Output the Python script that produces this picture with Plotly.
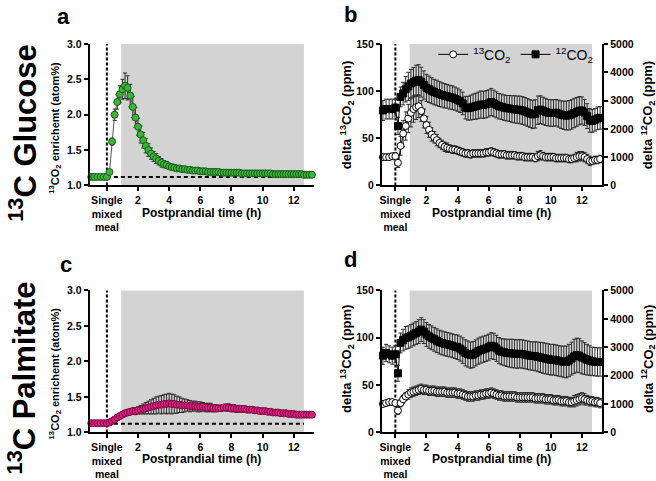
import plotly.graph_objects as go

# ---------------- data ----------------
TIME_MIN = [-60, -48, -36, -24, -12, 0,
            10, 20, 30, 40, 50, 60, 70, 80, 90, 100,
            110, 120, 130, 140, 150, 160, 170, 180, 190, 200,
            210, 220, 230, 240, 250, 260, 270, 280, 290, 300,
            310, 320, 330, 340, 350, 360, 370, 380, 390, 400,
            410, 420, 430, 440, 450, 460, 470, 480, 490, 500,
            510, 520, 530, 540, 550, 560, 570, 580, 590, 600,
            610, 620, 630, 640, 650, 660, 670, 680, 690, 700,
            710, 720, 730, 740, 750, 760, 770, 780, 790]

GLUCOSE_ENR = [1.12, 1.12, 1.12, 1.12, 1.12, 1.12,
               1.19, 1.62, 2.00, 2.18, 2.29, 2.36, 2.41, 2.38, 2.27, 2.11,
               1.96, 1.83, 1.72, 1.64, 1.56, 1.50, 1.45, 1.41, 1.38, 1.35,
               1.32, 1.30, 1.29, 1.27, 1.26, 1.25, 1.24, 1.24, 1.23, 1.23,
               1.22, 1.22, 1.21, 1.21, 1.21, 1.20, 1.20, 1.20, 1.19, 1.19,
               1.19, 1.19, 1.19, 1.18, 1.18, 1.18, 1.18, 1.18, 1.18, 1.18,
               1.18, 1.17, 1.17, 1.17, 1.17, 1.17, 1.17, 1.17, 1.17, 1.17,
               1.17, 1.17, 1.17, 1.16, 1.16, 1.16, 1.16, 1.16, 1.16, 1.16,
               1.16, 1.16, 1.16, 1.16, 1.16, 1.15, 1.15, 1.15, 1.15]
GLUCOSE_SEM = [0.01, 0.01, 0.01, 0.01, 0.01, 0.01,
               0.02, 0.05, 0.08, 0.10, 0.12, 0.14, 0.18, 0.17, 0.16, 0.15,
               0.14, 0.12, 0.12, 0.11, 0.10, 0.09, 0.08, 0.07, 0.07, 0.06,
               0.06, 0.05, 0.05, 0.04, 0.04, 0.03, 0.03, 0.03, 0.03, 0.02,
               0.02, 0.02, 0.02, 0.02, 0.02, 0.02, 0.02, 0.02, 0.02, 0.02,
               0.02, 0.02, 0.02, 0.02, 0.02, 0.01, 0.01, 0.01, 0.01, 0.01,
               0.01, 0.01, 0.01, 0.01, 0.01, 0.01, 0.01, 0.01, 0.01, 0.01,
               0.01, 0.01, 0.01, 0.01, 0.01, 0.01, 0.01, 0.01, 0.01, 0.01,
               0.01, 0.01, 0.01, 0.01, 0.01, 0.01, 0.01, 0.01, 0.01]

PALM_ENR = [1.13, 1.13, 1.13, 1.13, 1.13, 1.13,
            1.14, 1.16, 1.18, 1.21, 1.23, 1.25, 1.27, 1.28, 1.29, 1.30,
            1.30, 1.31, 1.32, 1.33, 1.34, 1.35, 1.36, 1.37, 1.38, 1.39,
            1.39, 1.40, 1.40, 1.41, 1.40, 1.40, 1.39, 1.39, 1.38, 1.38,
            1.38, 1.37, 1.37, 1.37, 1.36, 1.36, 1.36, 1.35, 1.35, 1.35,
            1.34, 1.34, 1.34, 1.34, 1.35, 1.35, 1.35, 1.34, 1.34, 1.33,
            1.33, 1.33, 1.33, 1.32, 1.32, 1.32, 1.31, 1.31, 1.30, 1.30,
            1.30, 1.29, 1.29, 1.28, 1.28, 1.28, 1.27, 1.27, 1.27, 1.26,
            1.26, 1.26, 1.25, 1.25, 1.25, 1.25, 1.25, 1.25, 1.25]
PALM_SEM = [0.01, 0.01, 0.01, 0.01, 0.01, 0.01,
            0.01, 0.01, 0.02, 0.02, 0.02, 0.03, 0.03, 0.03, 0.04, 0.04,
            0.05, 0.05, 0.06, 0.07, 0.08, 0.09, 0.10, 0.11, 0.12, 0.12,
            0.13, 0.13, 0.14, 0.14, 0.14, 0.13, 0.12, 0.11, 0.10, 0.09,
            0.08, 0.08, 0.07, 0.07, 0.07, 0.07, 0.06, 0.06, 0.06, 0.06,
            0.05, 0.05, 0.04, 0.04, 0.04, 0.05, 0.05, 0.05, 0.05, 0.05,
            0.05, 0.04, 0.04, 0.04, 0.04, 0.03, 0.03, 0.03, 0.03, 0.03,
            0.03, 0.03, 0.02, 0.02, 0.02, 0.02, 0.02, 0.02, 0.02, 0.02,
            0.02, 0.01, 0.01, 0.01, 0.01, 0.01, 0.01, 0.01, 0.01]

# panel b (13C glucose breath CO2)
B_13CO2 = [30, 30, 30, 30, 31, 31,
           24, 42, 55, 63, 71, 77, 81, 83, 84, 79,
           71, 64, 59, 54, 51, 48, 45, 43, 41, 40,
           39, 38, 38, 37, 36, 35, 34, 34, 33, 34,
           34, 34, 34, 34, 35, 35, 36, 35, 34, 33,
           33, 33, 32, 32, 32, 32, 31, 31, 31, 30,
           30, 30, 30, 29, 31, 32, 31, 30, 30, 30,
           30, 29, 29, 29, 29, 29, 28, 28, 29, 30,
           31, 31, 30, 28, 26, 26, 27, 27, 28]
B_13CO2_SEM = [3, 3, 3, 3, 3, 4,
               5, 10, 14, 15, 15, 15, 14, 13, 12, 11,
               10, 9, 8, 7, 6, 6, 5, 5, 5, 5,
               4, 4, 4, 4, 4, 4, 4, 4, 4, 4,
               4, 4, 4, 4, 4, 4, 4, 4, 4, 4,
               4, 4, 4, 4, 4, 4, 4, 4, 4, 4,
               4, 4, 4, 4, 5, 5, 4, 4, 4, 4,
               4, 4, 4, 4, 4, 4, 4, 4, 4, 5,
               5, 5, 5, 5, 5, 4, 4, 4, 4]
B_12CO2 = [2650, 2650, 2700, 2700, 2700, 2750,
           2100, 3130, 3250, 3400, 3500, 3600, 3650, 3700, 3720, 3650,
           3550, 3450, 3400, 3350, 3300, 3270, 3230, 3200, 3170, 3150,
           3120, 3100, 3070, 3030, 2980, 2900, 2750, 2730, 2750, 2780,
           2800, 2830, 2860, 2850, 2870, 2900, 2950, 2900, 2850, 2800,
           2780, 2750, 2730, 2720, 2700, 2690, 2680, 2670, 2650, 2620,
           2580, 2540, 2510, 2530, 2660, 2680, 2640, 2600, 2570, 2560,
           2560, 2570, 2540, 2500, 2480, 2470, 2480, 2510, 2560, 2600,
           2640, 2650, 2580, 2450, 2300, 2280, 2320, 2370, 2390]
B_12CO2_SEM = [350, 350, 350, 350, 350, 300,
               300, 350, 400, 450, 500, 500, 520, 550, 550, 530,
               500, 480, 470, 460, 450, 450, 440, 430, 430, 420,
               420, 420, 410, 410, 400, 400, 400, 420, 440, 450,
               460, 470, 480, 480, 480, 480, 480, 470, 460, 450,
               450, 450, 450, 460, 470, 480, 480, 490, 490, 490,
               490, 490, 500, 500, 500, 490, 480, 480, 470, 470,
               470, 470, 480, 490, 500, 510, 520, 520, 520, 510,
               500, 480, 460, 440, 420, 400, 400, 400, 400]

# panel d (13C palmitate breath CO2)
D_13CO2 = [30, 30, 31, 32, 32, 31,
           23, 31, 35, 38, 40, 42, 43, 44, 45, 46,
           45, 45, 44, 44, 44, 43, 43, 43, 43, 42,
           42, 42, 42, 41, 41, 40, 39, 38, 38, 38,
           39, 39, 40, 40, 41, 41, 42, 41, 40, 39,
           39, 38, 38, 38, 38, 38, 37, 37, 37, 37,
           37, 37, 37, 36, 36, 36, 36, 35, 35, 35,
           34, 34, 34, 33, 33, 33, 32, 32, 33, 34,
           35, 36, 35, 34, 33, 33, 32, 32, 31]
D_13CO2_SEM = [2, 2, 2, 2, 2, 3,
               4, 4, 4, 4, 5, 5, 5, 5, 5, 5,
               5, 5, 5, 5, 5, 5, 5, 5, 5, 5,
               5, 5, 5, 5, 5, 5, 5, 5, 5, 5,
               5, 5, 5, 5, 5, 5, 5, 5, 5, 5,
               5, 5, 5, 5, 5, 5, 5, 5, 5, 5,
               5, 5, 5, 5, 5, 5, 5, 5, 5, 5,
               5, 5, 5, 5, 5, 5, 5, 5, 6, 6,
               6, 6, 6, 5, 5, 5, 5, 5, 5]
D_12CO2 = [2650, 2700, 2800, 2750, 2700, 2750,
           2080, 3150, 3250, 3330, 3350, 3400, 3450, 3500, 3550, 3620,
           3550, 3450, 3380, 3330, 3280, 3230, 3180, 3150, 3120, 3100,
           3080, 3050, 3020, 3000, 2950, 2880, 2800, 2760, 2720, 2740,
           2800, 2860, 2900, 2930, 2960, 3000, 3050, 3030, 2960, 2880,
           2840, 2820, 2800, 2790, 2780, 2770, 2760, 2770, 2760, 2740,
           2720, 2700, 2690, 2680, 2660, 2640, 2620, 2600, 2580, 2560,
           2560, 2540, 2520, 2500, 2490, 2480, 2530, 2600, 2680, 2720,
           2700, 2640, 2600, 2560, 2530, 2500, 2490, 2480, 2480]
D_12CO2_SEM = [300, 300, 300, 300, 300, 300,
               280, 350, 380, 400, 400, 400, 400, 400, 420, 420,
               420, 420, 420, 420, 420, 420, 420, 420, 420, 420,
               420, 420, 420, 430, 440, 450, 460, 460, 460, 460,
               460, 460, 460, 460, 460, 460, 460, 460, 460, 460,
               460, 470, 480, 490, 500, 500, 500, 500, 500, 500,
               500, 500, 500, 510, 520, 530, 540, 540, 540, 540,
               540, 540, 540, 540, 550, 560, 570, 580, 600, 600,
               600, 580, 560, 540, 520, 500, 500, 500, 500]

for arr in [GLUCOSE_ENR, GLUCOSE_SEM, PALM_ENR, PALM_SEM, B_13CO2, B_13CO2_SEM,
            B_12CO2, B_12CO2_SEM, D_13CO2, D_13CO2_SEM, D_12CO2, D_12CO2_SEM]:
    assert len(arr) == len(TIME_MIN), len(arr)

T_H = [m / 60 for m in TIME_MIN]
BASELINE_ENR = 1.12            # dashed baseline level (atom%)
SHADE_START, SHADE_END = 0.92, 12.65   # shaded postprandial window (h)
X_TICKS = [0, 2, 4, 6, 8, 10, 12]
X_TICKTEXT = ["Single<br>mixed<br>meal", "2", "4", "6", "8", "10", "12"]

# ---------------- figure ----------------
W, H = 656, 481
FONT = "Liberation Sans, Arial, sans-serif"


def px(x):
    return x / W


def py(y):
    return 1 - y / H


fig = go.Figure()

err_style = dict(type="data", color="#2a2a2a", thickness=1, width=2)

# panel a
fig.add_trace(go.Scatter(
    x=T_H, y=GLUCOSE_ENR, xaxis="x", yaxis="y", mode="lines+markers",
    line=dict(color="#555555", width=1),
    marker=dict(symbol="circle", size=7, color="#36b836", line=dict(color="#1c5a1c", width=1)),
    error_y=dict(array=GLUCOSE_SEM, **err_style), cliponaxis=False, showlegend=False))

# panel b : 12CO2 on base right axis, 13CO2 on overlaying left axis
fig.add_trace(go.Scatter(
    x=T_H, y=B_13CO2, xaxis="x2", yaxis="y3", mode="lines+markers",
    name="<sup>13</sup>CO<sub>2</sub>",
    line=dict(color="#000000", width=1),
    marker=dict(symbol="circle", size=7, color="white", line=dict(color="#000000", width=1)),
    error_y=dict(array=B_13CO2_SEM, **err_style), cliponaxis=False, showlegend=True))
fig.add_trace(go.Scatter(
    x=T_H, y=B_12CO2, xaxis="x2", yaxis="y2", mode="lines+markers",
    name="<sup>12</sup>CO<sub>2</sub>",
    line=dict(color="#000000", width=1),
    marker=dict(symbol="square", size=7, color="#000000", line=dict(color="#000000", width=1)),
    error_y=dict(array=B_12CO2_SEM, **err_style), cliponaxis=False, showlegend=True))

# panel c
fig.add_trace(go.Scatter(
    x=T_H, y=PALM_ENR, xaxis="x3", yaxis="y4", mode="lines+markers",
    line=dict(color="#555555", width=1),
    marker=dict(symbol="circle", size=7, color="#e0187e", line=dict(color="#7a0c44", width=1)),
    error_y=dict(array=PALM_SEM, **err_style), cliponaxis=False, showlegend=False))

# panel d
fig.add_trace(go.Scatter(
    x=T_H, y=D_13CO2, xaxis="x4", yaxis="y6", mode="lines+markers",
    line=dict(color="#000000", width=1),
    marker=dict(symbol="circle", size=7, color="white", line=dict(color="#000000", width=1)),
    error_y=dict(array=D_13CO2_SEM, **err_style), cliponaxis=False, showlegend=False))
fig.add_trace(go.Scatter(
    x=T_H, y=D_12CO2, xaxis="x4", yaxis="y5", mode="lines+markers",
    line=dict(color="#000000", width=1),
    marker=dict(symbol="square", size=7, color="#000000", line=dict(color="#000000", width=1)),
    error_y=dict(array=D_12CO2_SEM, **err_style), cliponaxis=False, showlegend=False))

axis_common = dict(showline=True, linecolor="black", linewidth=2, ticks="outside",
                   ticklen=4, tickwidth=1.5, tickcolor="black", showgrid=False,
                   zeroline=False, tickfont=dict(family=FONT, size=10.5, color="black", weight="bold"))

xdom_l = [px(88), px(313)]
xdom_r = [px(381), px(602)]
ydom_top = [py(184), py(39)]
ydom_bot = [py(437.3), py(291.7)]

xcommon = dict(tickvals=X_TICKS, ticktext=X_TICKTEXT, **axis_common)

fig.update_layout(
    xaxis=dict(domain=xdom_l, anchor="y", range=[-1.1, 13.3], **xcommon),
    yaxis=dict(domain=ydom_top, anchor="x", range=[1.0, 3.0],
               tickvals=[1.0, 1.5, 2.0, 2.5, 3.0], tickformat=".1f", **axis_common),
    xaxis2=dict(domain=xdom_r, anchor="y2", range=[-0.87, 13.3], **xcommon),
    yaxis2=dict(domain=ydom_top, anchor="x2", side="right", range=[0, 5000],
                tickvals=[0, 1000, 2000, 3000, 4000, 5000], **axis_common),
    yaxis3=dict(overlaying="y2", anchor="x2", side="left", range=[0, 150],
                tickvals=[0, 50, 100, 150], **axis_common),
    xaxis3=dict(domain=xdom_l, anchor="y4", range=[-1.1, 13.3], **xcommon),
    yaxis4=dict(domain=ydom_bot, anchor="x3", range=[1.0, 3.0],
                tickvals=[1.0, 1.5, 2.0, 2.5, 3.0], tickformat=".1f", **axis_common),
    xaxis4=dict(domain=xdom_r, anchor="y5", range=[-0.87, 13.3], **xcommon),
    yaxis5=dict(domain=ydom_bot, anchor="x4", side="right", range=[0, 5000],
                tickvals=[0, 1000, 2000, 3000, 4000, 5000], **axis_common),
    yaxis6=dict(overlaying="y5", anchor="x4", side="left", range=[0, 150],
                tickvals=[0, 50, 100, 150], **axis_common),
)

shapes = []
for xr, yr, has_base in [("x", "y", True), ("x2", "y2", False),
                         ("x3", "y4", True), ("x4", "y5", False)]:
    shapes.append(dict(type="rect", xref=xr, yref=yr + " domain", x0=SHADE_START, x1=SHADE_END,
                       y0=0, y1=1, fillcolor="#d3d3d3", line=dict(width=0), layer="below"))
    shapes.append(dict(type="line", xref=xr, yref=yr + " domain", x0=0, x1=0, y0=0, y1=1,
                       line=dict(color="black", width=2, dash="3px,2px"), layer="below"))
    if has_base:
        shapes.append(dict(type="line", xref=xr, yref=yr, x0=0, x1=SHADE_END,
                           y0=BASELINE_ENR, y1=BASELINE_ENR,
                           line=dict(color="black", width=2, dash="4px,3px"), layer="below"))


def ann(text, x, y, size, angle=0, bold=True):
    return dict(text=text, x=px(x), y=py(y), xref="paper", yref="paper",
                xanchor="center", yanchor="middle", showarrow=False, textangle=angle,
                font=dict(family=FONT, size=size, color="black", weight="bold" if bold else "normal"))


annotations = [
    ann("a", 62, 11, 22), ann("b", 350, 9, 22), ann("c", 64, 265, 22), ann("d", 350, 260, 22),
    ann("<sup>13</sup>C Glucose", 21, 130, 31, -90),
    ann("<sup>13</sup>C Palmitate", 21, 381, 31, -90),
    ann("<sup>13</sup>CO<sub>2</sub> enrichemt (atom%)", 53, 125, 11, -90),
    ann("<sup>13</sup>CO<sub>2</sub> enrichemt (atom%)", 53, 377, 11, -90),
    ann("delta <sup>13</sup>CO<sub>2</sub> (ppm)", 346, 112, 13, -90),
    ann("delta <sup>12</sup>CO<sub>2</sub> (ppm)", 648, 112, 13, -90),
    ann("delta <sup>13</sup>CO<sub>2</sub> (ppm)", 346, 362, 13, -90),
    ann("delta <sup>12</sup>CO<sub>2</sub> (ppm)", 648, 362, 13, -90),
    ann("Postprandial time (h)", 200, 212, 12),
    ann("Postprandial time (h)", 491, 212, 12),
    ann("Postprandial time (h)", 200, 465, 12),
    ann("Postprandial time (h)", 491, 465, 12),
]

fig.update_layout(
    width=W, height=H, margin=dict(l=0, r=0, t=0, b=0),
    paper_bgcolor="white", plot_bgcolor="white",
    shapes=shapes, annotations=annotations,
    font=dict(family=FONT, color="black"),
    hovermode=False,
    showlegend=True,
    legend=dict(orientation="h", x=px(598), xanchor="right", y=py(50), yanchor="middle",
                bgcolor="rgba(0,0,0,0)", font=dict(family=FONT, size=14, color="black"),
                itemwidth=30, tracegroupgap=0),
)

# the page's default 8 px body margin would push the figure off its frame
fig.write_html("out.html", config={"displayModeBar": False},
               post_script="document.body.style.margin='0px';")
